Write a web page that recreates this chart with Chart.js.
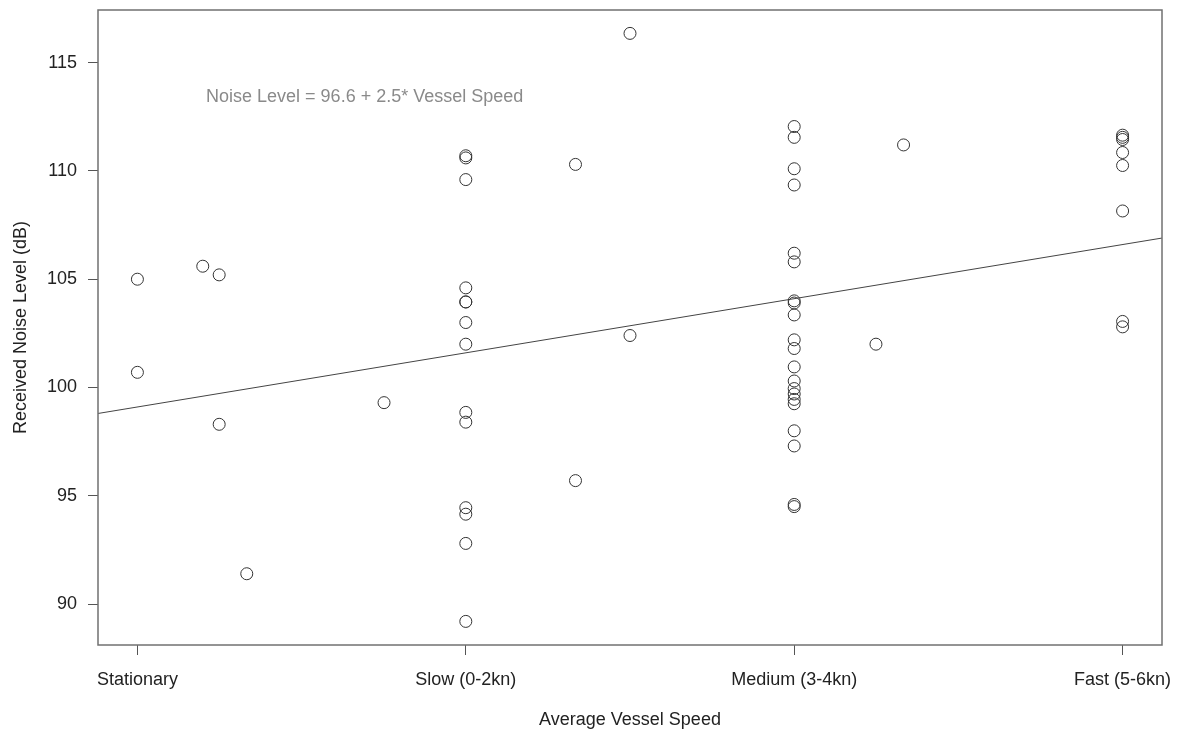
<!DOCTYPE html>
<html>
<head>
<meta charset="utf-8">
<title>Received Noise Level by Vessel Speed</title>
<script src="https://cdn.jsdelivr.net/npm/chart.js@4.4.1/dist/chart.umd.min.js"></script>
<style>
    html, body { margin: 0; padding: 0; background: #fff; }
    #wrap { width: 1179px; height: 736px; }
</style>
</head>
<body>
<div id="wrap"><canvas id="noiseChart"></canvas></div>
<script>
// speed classes, coded 1..4 as in the regression
const speedLabels = ['Stationary', 'Slow (0-2kn)', 'Medium (3-4kn)', 'Fast (5-6kn)'];
const speedTicks = [1, 2, 3, 4];
const noiseTicks = [90, 95, 100, 105, 110, 115];

// recordings: speed code and received level (dB)
const speedCode = [
    1, 1, 1.199, 1.249, 1.249, 1.333, 1.751,
    2, 2, 2, 2, 2, 2, 2, 2, 2, 2, 2, 2, 2, 2,
    2.334, 2.334, 2.5, 2.5,
    3, 3, 3, 3, 3, 3, 3, 3, 3, 3, 3, 3, 3, 3, 3, 3, 3, 3, 3, 3, 3,
    3.249, 3.333,
    4, 4, 4, 4, 4, 4, 4, 4
];
const noiseDb = [
    105.0, 100.7, 105.6, 105.2, 98.3, 91.4, 99.3,
    110.7, 110.6, 109.6, 104.6, 103.95, 103.95, 103.0, 102.0, 98.85, 98.4, 94.45, 94.15, 92.8, 89.2,
    110.3, 95.7, 116.35, 102.4,
    112.05, 111.55, 110.1, 109.35, 106.2, 105.8, 104.0, 103.9, 103.35, 102.2, 101.8, 100.95, 100.3, 99.95, 99.7, 99.45, 99.25, 98.0, 97.3, 94.6, 94.5,
    102.0, 111.2,
    111.65, 111.55, 111.45, 110.85, 110.25, 108.15, 103.05, 102.8
];

// fitted model: Noise Level = 96.6 + 2.5 * Vessel Speed
const fitIntercept = 96.6;
const fitSlope = 2.5;

const xMin = 0.88, xMax = 4.12;
const yMin = 88.11, yMax = 117.43;

const fontFamily = "'Liberation Sans', Arial, sans-serif";

// outer box around the plotting region
const frameBox = {
    id: 'frameBox',
    afterDatasetsDraw(chart) {
        const a = chart.chartArea;
        const ctx = chart.ctx;
        ctx.save();
        ctx.strokeStyle = '#707070';
        ctx.lineWidth = 1.5;
        ctx.strokeRect(a.left, a.top, a.right - a.left, a.bottom - a.top);
        ctx.restore();
    }
};

// equation label inside the plot
const fitLabel = {
    id: 'fitLabel',
    afterDatasetsDraw(chart) {
        const ctx = chart.ctx;
        const x = chart.scales.x.getPixelForValue(1.209);
        const y = chart.scales.y.getPixelForValue(113.4);
        ctx.save();
        ctx.font = '18px ' + fontFamily;
        ctx.fillStyle = '#8a8a8a';
        ctx.textAlign = 'left';
        ctx.textBaseline = 'middle';
        ctx.fillText('Noise Level = ' + fitIntercept + ' + ' + fitSlope + '* Vessel Speed', x, y);
        ctx.restore();
    }
};

function createNoiseChart() {
    const ctx = document.getElementById('noiseChart').getContext('2d');

    const points = speedCode.map((value, index) => ({ x: value, y: noiseDb[index] }));
    const fitLine = [xMin, xMax].map(v => ({ x: v, y: fitIntercept + fitSlope * v }));

    new Chart(ctx, {
        type: 'scatter',
        data: {
            datasets: [{
                label: 'Received noise',
                data: points,
                pointStyle: 'circle',
                pointRadius: 6,
                pointHoverRadius: 6,
                backgroundColor: 'rgba(0,0,0,0)',
                borderColor: '#333',
                borderWidth: 1
            }, {
                type: 'line',
                label: 'Fit',
                data: fitLine,
                borderColor: '#444',
                borderWidth: 1,
                pointRadius: 0,
                fill: false
            }]
        },
        options: {
            responsive: true,
            maintainAspectRatio: false,
            animation: false,
            layout: {
                padding: { top: 10, right: 17, left: 0, bottom: 0 }
            },
            scales: {
                x: {
                    type: 'linear',
                    min: xMin,
                    max: xMax,
                    afterBuildTicks: s => { s.ticks = speedTicks.map(v => ({ value: v })); },
                    afterFit: s => {
                        s.height = 91;
                        s.paddingLeft = 0;
                        s.paddingRight = 0;
                    },
                    grid: {
                        drawOnChartArea: false,
                        drawTicks: true,
                        tickLength: 10,
                        tickColor: '#555'
                    },
                    border: { display: false },
                    ticks: {
                        padding: 14,
                        color: '#222',
                        maxRotation: 0,
                        font: { family: fontFamily, size: 18 },
                        callback: value => speedLabels[speedTicks.indexOf(value)]
                    },
                    title: {
                        display: true,
                        text: 'Average Vessel Speed',
                        color: '#222',
                        font: { family: fontFamily, size: 18 },
                        padding: { top: 0, bottom: 5 }
                    }
                },
                y: {
                    min: yMin,
                    max: yMax,
                    afterBuildTicks: s => { s.ticks = noiseTicks.map(v => ({ value: v })); },
                    afterFit: s => {
                        s.width = 98;
                        s.paddingTop = 0;
                        s.paddingBottom = 0;
                    },
                    grid: {
                        drawOnChartArea: false,
                        drawTicks: true,
                        tickLength: 10,
                        tickColor: '#555'
                    },
                    border: { display: false },
                    ticks: {
                        padding: 11,
                        color: '#222',
                        font: { family: fontFamily, size: 18 }
                    },
                    title: {
                        display: true,
                        text: 'Received Noise Level (dB)',
                        color: '#222',
                        font: { family: fontFamily, size: 18 },
                        padding: { top: 10, bottom: 0 }
                    }
                }
            },
            plugins: {
                legend: { display: false },
                tooltip: { enabled: false }
            }
        },
        plugins: [frameBox, fitLabel]
    });
}

createNoiseChart();
</script>
</body>
</html>
